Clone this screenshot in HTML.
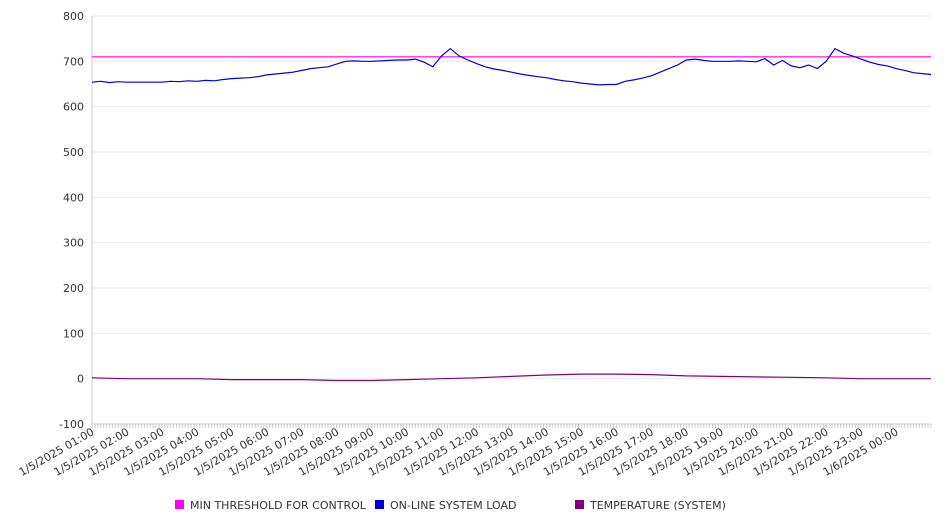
<!DOCTYPE html>
<html><head><meta charset="utf-8"><style>
body{margin:0;background:#fff;font-family:"Liberation Sans","DejaVu Sans",sans-serif}
svg text{font-family:"DejaVu Sans","Liberation Sans",sans-serif}
</style></head><body>
<svg id="chart" width="946" height="526" xmlns="http://www.w3.org/2000/svg"></svg>
<script>
const yTicks=[800,700,600,500,400,300,200,100,0,-100];
const xLabels=["1/5/2025 01:00","1/5/2025 02:00","1/5/2025 03:00","1/5/2025 04:00","1/5/2025 05:00","1/5/2025 06:00","1/5/2025 07:00","1/5/2025 08:00","1/5/2025 09:00","1/5/2025 10:00","1/5/2025 11:00","1/5/2025 12:00","1/5/2025 13:00","1/5/2025 14:00","1/5/2025 15:00","1/5/2025 16:00","1/5/2025 17:00","1/5/2025 18:00","1/5/2025 19:00","1/5/2025 20:00","1/5/2025 21:00","1/5/2025 22:00","1/5/2025 23:00","1/6/2025 00:00"];
const thresholdValue=710;
const loadValues=[654,656,653,655,654,654,654,654,654,656,655,657,656,658,657,660,662,663,664,666,670,672,674,676,680,684,686,688,694,700,701,700,700,701,702,703,703,705,698,688,712,728,712,703,695,688,683,680,676,672,669,666,664,660,657,655,652,650,648,649,649,656,659,663,668,676,684,692,703,705,702,700,700,700,701,700,699,706,692,702,690,686,692,684,700,728,718,712,705,698,693,690,684,680,675,673,671];
const tempValues=[2,0,0,0,-2,-2,-2,-4,-4,-2,0,2,5,8,10,10,9,6,5,4,3,2,0,0,0];
const seriesNames=["MIN THRESHOLD FOR CONTROL","ON-LINE SYSTEM LOAD","TEMPERATURE (SYSTEM)"];
const seriesColors=["#ff00ff","#0000dd","#800080"];

const NS="http://www.w3.org/2000/svg";
const svg=document.getElementById('chart');
const L=92,R=931,T=16,B=424,yMin=-100,yMax=800,hours=24;
const yS=v=>B-(v-yMin)/(yMax-yMin)*(B-T);
const xS=h=>L+h/hours*(R-L);
function mk(tag,attrs,parent){const e=document.createElementNS(NS,tag);for(const k in attrs)e.setAttribute(k,attrs[k]);(parent||svg).appendChild(e);return e;}

yTicks.forEach(v=>{
  const g=mk('line',{x1:L,x2:R,y1:yS(v),y2:yS(v),stroke:'#ebebeb','stroke-width':1});
  
  
  const t=mk('text',{x:84,y:yS(v)+4,'text-anchor':'end','font-size':11,fill:'#333'});
  t.textContent=v;
  
  
});
const ax=mk('line',{x1:L,x2:L,y1:T,y2:B,stroke:'#ccc'});


const xax=mk('line',{x1:L,x2:R,y1:B,y2:B,stroke:'#ccc'});


for(let i=0;i<=hours*12;i++){
  const tk=mk('line',{x1:xS(i/12),x2:xS(i/12),y1:B,y2:B+4,stroke:'#ccc'});
  
  
}
xLabels.forEach((s,i)=>{
  const x=xS(i)+3,y=B+10;
  const t=mk('text',{x:x,y:y,'text-anchor':'end','font-size':11,fill:'#333',transform:`rotate(-30 ${x} ${y})`});
  t.textContent=s;
  
  
});
const th=mk('line',{x1:L,x2:R,y1:yS(thresholdValue),y2:yS(thresholdValue),stroke:seriesColors[0],'stroke-width':1.2});


function poly(vals,color,name){
  const n=vals.length-1;
  const pts=vals.map((v,i)=>xS(i/n*hours).toFixed(1)+','+yS(v).toFixed(1)).join(' ');
  const p=mk('polyline',{points:pts,fill:'none',stroke:color,'stroke-width':1.2});
  
  
}
poly(loadValues,seriesColors[1],'online-system-load-line');
poly(tempValues,seriesColors[2],'temperature-line');

const legX=[175,375,575];
seriesNames.forEach((s,i)=>{
  const r=mk('rect',{x:legX[i],y:500,width:9,height:9,fill:seriesColors[i]});
  
  
  const t=mk('text',{x:legX[i]+15,y:509,'font-size':11,fill:'#333'});
  t.textContent=s;
  
  
});
</script>
</body></html>
